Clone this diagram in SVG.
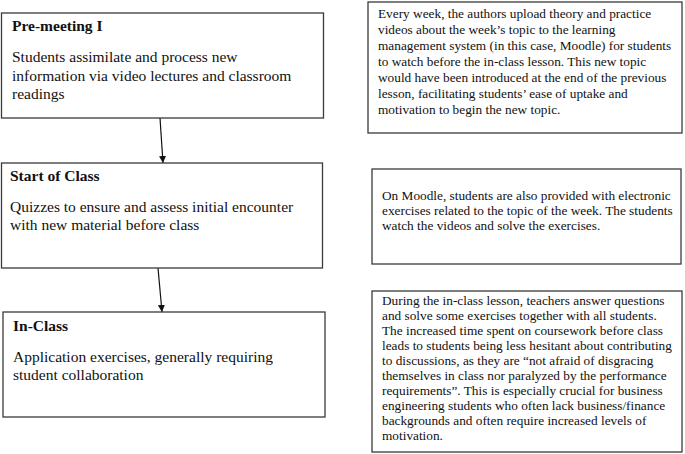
<svg xmlns="http://www.w3.org/2000/svg" width="685" height="454" viewBox="0 0 685 454">
<style>
.box{fill:#fff;stroke:#3a3a3a;stroke-width:1.3}
.t{font-family:"Liberation Serif","Times New Roman",serif;fill:#111}
.h{font-size:15.5px;font-weight:bold}
.b{font-size:15.5px}
.s{font-size:13.3px}
.c{stroke:#111;stroke-width:1.2;fill:none}
</style>
<defs>
<marker id="ah" viewBox="0 0 10 10" refX="10" refY="5" markerWidth="7" markerHeight="7" markerUnits="userSpaceOnUse" orient="auto">
<path d="M0,0 L10,5 L0,10 z" fill="#111"/>
</marker>
</defs>
<rect width="685" height="454" fill="#fff"/>
<g id="connectors">
<line class="c" x1="160" y1="118" x2="163" y2="163" marker-end="url(#ah)"/>
<line class="c" x1="158" y1="268" x2="162" y2="312" marker-end="url(#ah)"/>
</g>
<g id="pre-meeting">
<rect class="box" x="1.5" y="13" width="322" height="105"/>
<text class="t h" x="12" y="31">Pre-meeting I</text>
<text class="t b" x="12" y="62">Students assimilate and process new</text>
<text class="t b" x="12" y="80.5">information via video lectures and classroom</text>
<text class="t b" x="12" y="99">readings</text>
</g>
<g id="start-of-class">
<rect class="box" x="1.5" y="163" width="321" height="105"/>
<text class="t h" x="10" y="181">Start of Class</text>
<text class="t b" x="10" y="212">Quizzes to ensure and assess initial encounter</text>
<text class="t b" x="10" y="230">with new material before class</text>
</g>
<g id="in-class">
<rect class="box" x="3" y="312" width="322" height="105"/>
<text class="t h" x="13" y="331">In-Class</text>
<text class="t b" x="13" y="362">Application exercises, generally requiring</text>
<text class="t b" x="13" y="380">student collaboration</text>
</g>
<g id="note-1">
<rect class="box" x="368" y="2" width="314" height="131"/>
<text class="t s" x="378" y="17.5">Every week, the authors upload theory and practice</text>
<text class="t s" x="378" y="33.5">videos about the week’s topic to the learning</text>
<text class="t s" x="378" y="49.5">management system (in this case, Moodle) for students</text>
<text class="t s" x="378" y="65.5">to watch before the in-class lesson. This new topic</text>
<text class="t s" x="378" y="81.5">would have been introduced at the end of the previous</text>
<text class="t s" x="378" y="97.5">lesson, facilitating students’ ease of uptake and</text>
<text class="t s" x="378" y="113.5">motivation to begin the new topic.</text>
</g>
<g id="note-2">
<rect class="box" x="372" y="169" width="309" height="95"/>
<text class="t s" x="382" y="200">On Moodle, students are also provided with electronic</text>
<text class="t s" x="382" y="215">exercises related to the topic of the week. The students</text>
<text class="t s" x="382" y="230">watch the videos and solve the exercises.</text>
</g>
<g id="note-3">
<rect class="box" x="372" y="291" width="310" height="161"/>
<text class="t s" x="382" y="305">During the in-class lesson, teachers answer questions</text>
<text class="t s" x="382" y="320">and solve some exercises together with all students.</text>
<text class="t s" x="382" y="335">The increased time spent on coursework before class</text>
<text class="t s" x="382" y="350">leads to students being less hesitant about contributing</text>
<text class="t s" x="382" y="365">to discussions, as they are “not afraid of disgracing</text>
<text class="t s" x="382" y="380">themselves in class nor paralyzed by the performance</text>
<text class="t s" x="382" y="395">requirements”. This is especially crucial for business</text>
<text class="t s" x="382" y="410">engineering students who often lack business/finance</text>
<text class="t s" x="382" y="425">backgrounds and often require increased levels of</text>
<text class="t s" x="382" y="440">motivation.</text>
</g>
</svg>
